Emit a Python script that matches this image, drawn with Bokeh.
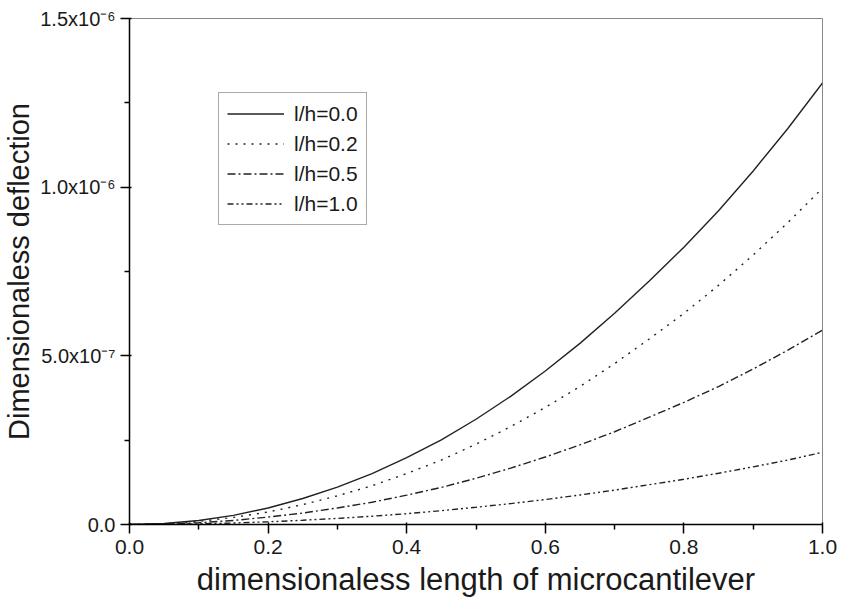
from bokeh.plotting import figure
from bokeh.models import Legend, LegendItem, FixedTicker, Range1d
from bokeh.embed import file_html
from bokeh.resources import INLINE

# ---- data ----
x_vals = [0.0, 0.05, 0.1, 0.15, 0.2, 0.25, 0.3, 0.35, 0.4, 0.45, 0.5,
          0.55, 0.6, 0.65, 0.7, 0.75, 0.8, 0.85, 0.9, 0.95, 1.0]
w_lh00 = [0, 0.003, 0.012, 0.027, 0.049, 0.077, 0.111, 0.151, 0.198, 0.251, 0.312,
          0.380, 0.455, 0.537, 0.626, 0.722, 0.822, 0.930, 1.048, 1.174, 1.309]
w_lh02 = [0, 0.0023, 0.009, 0.021, 0.037, 0.059, 0.085, 0.115, 0.151, 0.191, 0.238,
          0.290, 0.347, 0.409, 0.477, 0.550, 0.626, 0.709, 0.799, 0.895, 0.997]
w_lh05 = [0, 0.0013, 0.0053, 0.012, 0.022, 0.034, 0.049, 0.066, 0.087, 0.110, 0.137,
          0.167, 0.200, 0.236, 0.275, 0.318, 0.362, 0.409, 0.461, 0.517, 0.576]
w_lh10 = [0, 0.0005, 0.002, 0.0044, 0.008, 0.0126, 0.018, 0.0246, 0.032, 0.041, 0.051,
          0.062, 0.074, 0.0875, 0.102, 0.118, 0.134, 0.152, 0.171, 0.191, 0.214]
scale = 1e-6
series_labels = ["l/h=0.0", "l/h=0.2", "l/h=0.5", "l/h=1.0"]

x_ticks = [0.0, 0.2, 0.4, 0.6, 0.8, 1.0]
x_minor = [0.1, 0.3, 0.5, 0.7, 0.9]
y_ticks = [0.0, 5e-7, 1e-6, 1.5e-6]
y_minor = [2.5e-7, 7.5e-7, 1.25e-6]
y_tick_labels = ["0.0", "5.0x10\u207b\u2077", "1.0x10\u207b\u2076", "1.5x10\u207b\u2076"]
x_tick_labels = ["0.0", "0.2", "0.4", "0.6", "0.8", "1.0"]

FONT = "Liberation Sans"
TXT = "#1a1a1a"
LINE = "#222222"

p = figure(width=841, height=607, output_backend="svg", toolbar_location=None,
           x_range=Range1d(0, 1), y_range=Range1d(0, 1.5e-6),
           min_border_left=127, min_border_right=19, min_border_top=18,
           min_border_bottom=83)
p.grid.visible = False
p.background_fill_color = "white"
p.border_fill_color = "white"
p.outline_line_color = "#888888"
p.outline_line_width = 1

series = [w_lh00, w_lh02, w_lh05, w_lh10]
dashes = ["solid", "2 6", "8 3 2 3", "6 3 2 3 2 3"]
renderers = []
for vals, dash in zip(series, dashes):
    r = p.line(x_vals, [v * scale for v in vals], line_color=LINE,
               line_width=1.4, line_dash=dash)
    renderers.append(r)

# axes
p.xaxis.ticker = FixedTicker(ticks=x_ticks, minor_ticks=x_minor)
p.yaxis.ticker = FixedTicker(ticks=y_ticks, minor_ticks=y_minor)
p.xaxis.major_label_overrides = dict(zip(x_ticks, x_tick_labels))
p.yaxis.major_label_overrides = dict(zip(y_ticks, y_tick_labels))

for ax in (p.xaxis[0], p.yaxis[0]):
    ax.axis_line_color = "black"
    ax.axis_line_width = 1.5
    ax.major_tick_line_color = "black"
    ax.major_tick_line_width = 1.5
    ax.minor_tick_line_color = "black"
    ax.minor_tick_line_width = 1.5
    ax.major_tick_out = 9
    ax.major_tick_in = 2
    ax.minor_tick_out = 5
    ax.minor_tick_in = 0
    ax.major_label_text_font = FONT
    ax.major_label_text_color = TXT
    ax.axis_label_text_font = FONT
    ax.axis_label_text_font_style = "normal"
    ax.axis_label_text_color = TXT

p.xaxis.major_label_text_font_size = "21px"
p.yaxis.major_label_text_font_size = "20px"
p.xaxis.major_label_standoff = 6
p.yaxis.major_label_standoff = 5

p.xaxis.axis_label = "dimensionaless length of microcantilever"
p.yaxis.axis_label = "Dimensionaless deflection"
p.xaxis.axis_label_text_font_size = "31px"
p.yaxis.axis_label_text_font_size = "29px"
p.xaxis.axis_label_standoff = 5
p.yaxis.axis_label_standoff = 2

legend = Legend(items=[LegendItem(label=l, renderers=[r]) for l, r in zip(series_labels, renderers)],
                location=(89, 299))
legend.label_text_font = FONT
legend.label_text_font_size = "21px"
legend.label_text_color = TXT
legend.border_line_color = "#555555"
legend.border_line_width = 1
legend.background_fill_color = "white"
legend.background_fill_alpha = 1
legend.glyph_width = 57
legend.glyph_height = 25
legend.label_height = 25
legend.spacing = 5
legend.padding = 8
legend.margin = 0
legend.label_standoff = 10
p.add_layout(legend)

open("out.html", "w").write(file_html(p, INLINE))
